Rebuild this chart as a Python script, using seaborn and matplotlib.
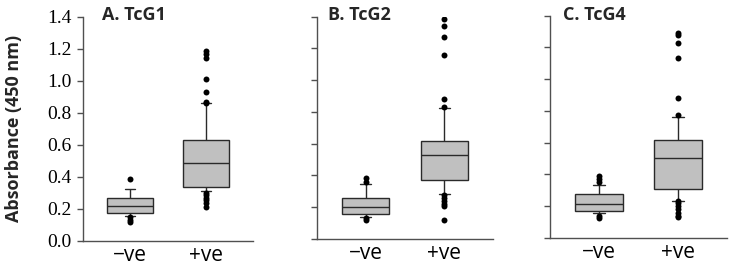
import matplotlib
matplotlib.use("Agg")
import matplotlib.pyplot as plt
from matplotlib import font_manager as fm
import seaborn as sns
import pandas as pd

# ---- data (box: [whisker_low, q1, median, q3, whisker_high]) ----
panels = ["A. TcG1", "B. TcG2", "C. TcG4"]
groups = ["\u2212ve", "+ve"]

box_A_neg = [0.154, 0.175, 0.220, 0.265, 0.321]
box_A_pos = [0.310, 0.334, 0.488, 0.630, 0.859]
fliers_A_neg = [0.386, 0.146, 0.130, 0.118]
fliers_A_pos = [1.188, 1.170, 1.144, 1.009, 0.927, 0.870, 0.860,
                0.300, 0.285, 0.270, 0.255, 0.234, 0.212]

box_B_neg = [0.137, 0.155, 0.201, 0.258, 0.344]
box_B_pos = [0.281, 0.371, 0.527, 0.617, 0.824]
fliers_B_neg = [0.382, 0.362, 0.130, 0.120]
fliers_B_pos = [1.385, 1.342, 1.271, 1.156, 0.879, 0.829,
                0.275, 0.258, 0.240, 0.222, 0.205, 0.120]

box_C_neg = [0.160, 0.170, 0.216, 0.279, 0.332]
box_C_pos = [0.235, 0.310, 0.506, 0.615, 0.764]
fliers_C_neg = [0.390, 0.372, 0.353, 0.139, 0.124]
fliers_C_pos = [1.289, 1.276, 1.225, 1.132, 0.880, 0.775,
                0.235, 0.220, 0.200, 0.180, 0.160, 0.140, 0.130]

y_ticks = [0.0, 0.2, 0.4, 0.6, 0.8, 1.0, 1.2, 1.4]
y_label = "Absorbance (450 nm)"

boxes = [(box_A_neg, box_A_pos), (box_B_neg, box_B_pos), (box_C_neg, box_C_pos)]
fliers = [(fliers_A_neg, fliers_A_pos), (fliers_B_neg, fliers_B_pos), (fliers_C_neg, fliers_C_pos)]

sns.set_style("ticks")
plt.rcParams["font.family"] = ["Open Sans", "DejaVu Sans"]

# locate a Times-like serif font file for the y tick labels
serif_path = None
for fam in ["Liberation Serif", "DejaVu Serif"]:
    try:
        serif_path = fm.findfont(fm.FontProperties(family=fam), fallback_to_default=False)
        break
    except Exception:
        continue
tick_font = fm.FontProperties(fname=serif_path, size=14) if serif_path else \
    fm.FontProperties(family="serif", size=14)

W, H = 729, 266
fig = plt.figure(figsize=(W / 100, H / 100), dpi=100)

# axes rectangles in pixels: left, y of 0.0, width, y of 1.4
rects = [(83, 240.7, 170, 16.7), (317, 239.0, 176, 16.7), (550, 238.0, 177, 15.7)]
title_dx = [19, 11, 13]

for i, (lft, y0, w, y1) in enumerate(rects):
    ax = fig.add_axes([lft / W, (H - y0) / H, w / W, (y0 - y1) / H])
    bneg, bpos = boxes[i]
    fneg, fpos = fliers[i]
    box_df = pd.DataFrame({
        "group": [groups[0]] * len(bneg) + [groups[1]] * len(bpos),
        "value": list(bneg) + list(bpos),
    })
    fl_df = pd.DataFrame({
        "group": [groups[0]] * len(fneg) + [groups[1]] * len(fpos),
        "value": list(fneg) + list(fpos),
    })
    sns.boxplot(data=box_df, x="group", y="value", order=groups, whis=(0, 100),
                width=0.6, color="#c0c0c0", linecolor="#2a2a2a", linewidth=1.0,
                fliersize=0, saturation=1, capwidths=0.14, ax=ax)
    sns.stripplot(data=fl_df, x="group", y="value", order=groups, jitter=False,
                  color="black", size=4.3, ax=ax, zorder=5)
    ax.set_ylim(0, 1.4)
    ax.set_xlim(-0.62, 1.62)
    ax.set_yticks(y_ticks)
    sns.despine(ax=ax)
    for s in ["left", "bottom"]:
        ax.spines[s].set_color("#505050")
        ax.spines[s].set_linewidth(1.0)
    ax.tick_params(axis="x", length=0, pad=3, labelsize=15, labelcolor="black")
    ax.tick_params(axis="y", length=4, width=1.0, color="#505050", direction="out",
                   labelcolor="black", pad=4)
    ax.set_xlabel("")
    ax.set_ylabel("")
    if i == 0:
        ax.set_yticklabels([f"{t:.1f}" for t in y_ticks], fontproperties=tick_font)
    else:
        ax.set_yticklabels([])
    ax.text(title_dx[i] / w, (y0 - 20) / (y0 - y1), panels[i], transform=ax.transAxes,
            fontsize=13, fontweight="bold", ha="left", va="baseline", family="Open Sans")

fig.text(14 / W, 1 - 128 / H, y_label, rotation=90, ha="center", va="center",
         fontsize=13, fontweight="bold", family="Open Sans")

fig.savefig("out.png", dpi=100)
